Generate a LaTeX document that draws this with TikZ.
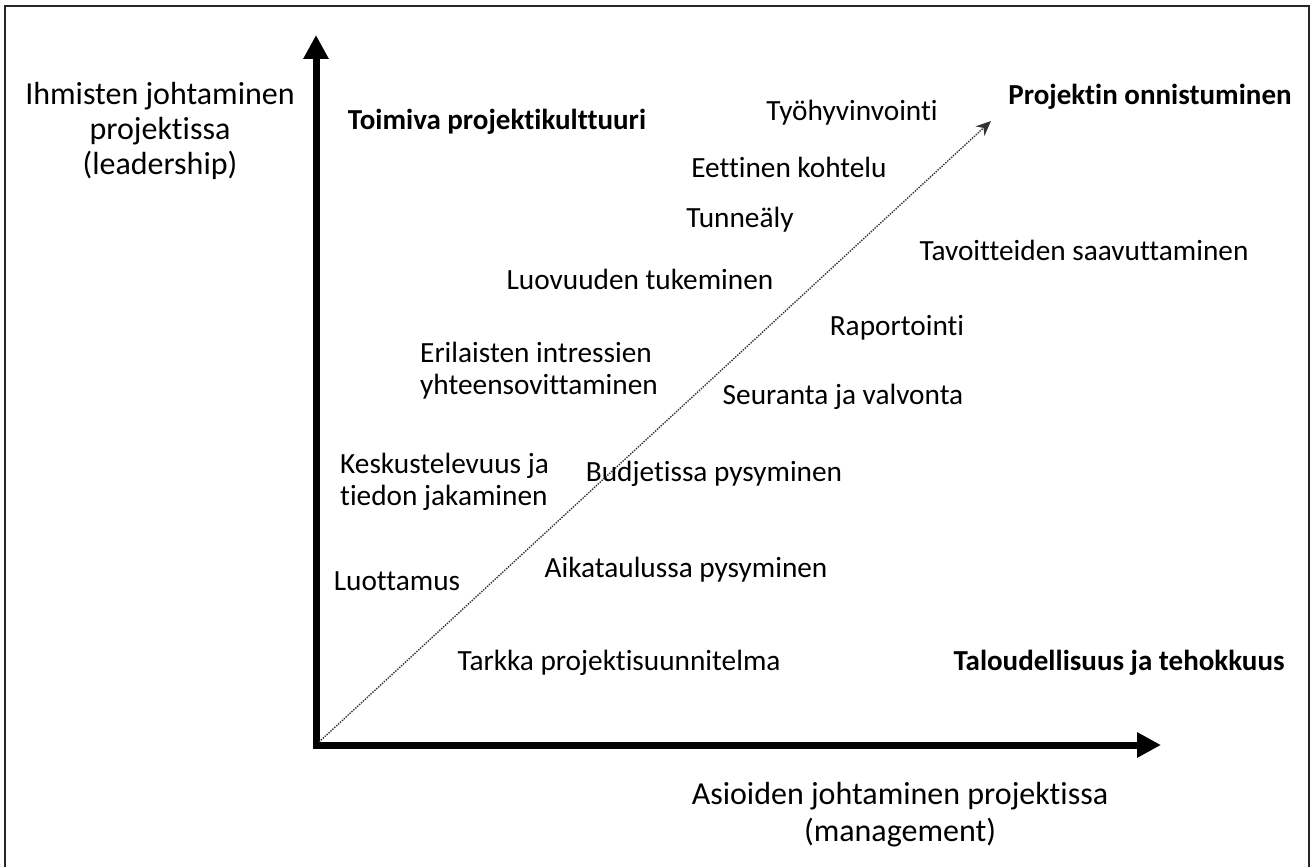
\documentclass[tikz,border=0pt]{standalone}
\usepackage{fontspec}
\setmainfont{Carlito}[Ligatures=NoCommon]
\usetikzlibrary{arrows.meta}
\begin{document}
\begin{tikzpicture}[x=1pt,y=-1pt,
  lbl/.style={inner sep=0pt,font=\fontsize{29.3}{32}\selectfont},
  bold lbl/.style={lbl,font=\fontsize{29}{32}\selectfont\bfseries},
  axis lbl/.style={inner sep=0pt,align=center},
  axis/.style={line width=7pt,-{Triangle[length=24pt,width=24pt]}},
  trend/.style={line width=1.4pt,black!80,dash pattern=on 1.4pt off 1.2pt,
    -{Stealth[length=15pt,width=13pt]}}]
\useasboundingbox (0,0) rectangle (1312,867);
\draw[line width=2pt,black!85] (5,6) rectangle (1309,885);

% axes
\coordinate (O) at (316,745);
\coordinate (ybase) at (316,748.5);
\coordinate (xbase) at (312.5,745);
\coordinate (ytip) at (316,35);
\coordinate (xtip) at (1161,745);
\coordinate (dstart) at (319,742);
\coordinate (dtip) at (991,121);
\draw[axis] (ybase) -- (ytip);
\draw[axis] (xbase) -- (xtip);
\draw[trend] (dstart) -- (dtip);

% axis titles
\node[axis lbl,font=\fontsize{32}{35}\selectfont] (ylab) at (160,131)
  {Ihmisten johtaminen\\projektissa\\(leadership)};
\node[axis lbl,font=\fontsize{32}{37}\selectfont] (xlab) at (900,815)
  {Asioiden johtaminen projektissa\\(management)};

% corner labels
\node[bold lbl] (culture) at (497,122) {Toimiva projektikulttuuri};
\node[bold lbl] (success) at (1150,97) {Projektin onnistuminen};
\node[bold lbl] (economy) at (1119,663) {Taloudellisuus ja tehokkuus};

% leadership items
\node[lbl] (wellbeing) at (852,113) {Työhyvinvointi};
\node[lbl] (ethics) at (789,167) {Eettinen kohtelu};
\node[lbl] (emotion) at (740,220) {Tunneäly};
\node[lbl] (creativity) at (640,279) {Luovuuden tukeminen};
\node[lbl,align=left,anchor=west] (interests) at (420,371) {Erilaisten intressien\\yhteensovittaminen};
\node[lbl,align=left,anchor=west] (dialogue) at (340,482) {Keskustelevuus ja\\tiedon jakaminen};
\node[lbl] (trust) at (397,581) {Luottamus};

% management items
\node[lbl] (goals) at (1084,250) {Tavoitteiden saavuttaminen};
\node[lbl] (reporting) at (897,328) {Raportointi};
\node[lbl] (monitoring) at (843,397) {Seuranta ja valvonta};
\node[lbl] (budget) at (714,474) {Budjetissa pysyminen};
\node[lbl] (schedule) at (686,570) {Aikataulussa pysyminen};
\node[lbl] (plan) at (619,663) {Tarkka projektisuunnitelma};
\end{tikzpicture}
\end{document}
